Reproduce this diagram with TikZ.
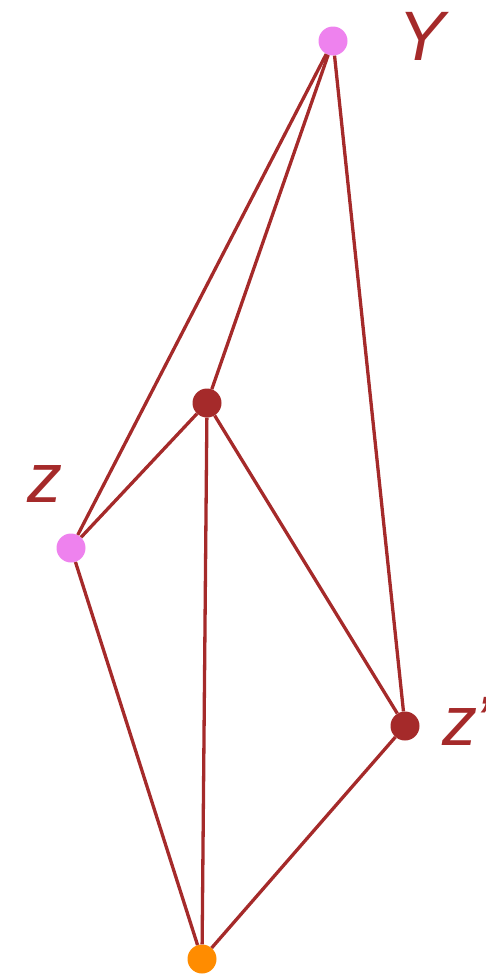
\documentclass[tikz,border=0pt]{standalone}
\usepackage{fontspec}
\setmainfont{Liberation Sans}
\usepackage{tikz}

\definecolor{edgered}{HTML}{A52A2A}
\definecolor{dotpink}{HTML}{EE82EE}
\definecolor{dotorange}{HTML}{FF8C00}

\begin{document}
\begin{tikzpicture}[x=1pt,y=1pt,
    dot/.style={circle, inner sep=0pt, minimum size=29pt},
    lbl/.style={text=edgered, font=\fontsize{70}{70}\selectfont\itshape, inner sep=0pt},
    edge/.style={draw=edgered, line width=3.3pt}]
                        \useasboundingbox (0,0) rectangle (486,-977);
                        % Nodes
                        \node[dot, fill=dotpink] (Y) at (333,-41) {};
                        \node[dot, fill=edgered] (m) at (207,-403) {};
                        \node[dot, fill=dotpink] (z) at (71,-548) {};
                        \node[dot, fill=edgered] (zp) at (405,-726) {};
                        \node[dot, fill=dotorange] (b) at (202,-959) {};

                        % Labels
                        \node[lbl] (Ylbl) at (422,-36) {Y};
                        \node[lbl] (zlbl) at (45,-484) {z};
                        \node[lbl, anchor=base west] (zplbl) at (442,-745) {z\kern-3pt'};

                        % Edges
                        \draw[edge] (Y) -- (z);
                        \draw[edge] (Y) -- (m);
                        \draw[edge] (Y) -- (zp);

                        \draw[edge] (m) -- (z);
                        \draw[edge] (m) -- (b);
                        \draw[edge] (m) -- (zp);

                        \draw[edge] (z) -- (b);
                        \draw[edge] (zp) -- (b);
                    \end{tikzpicture}
\end{document}
